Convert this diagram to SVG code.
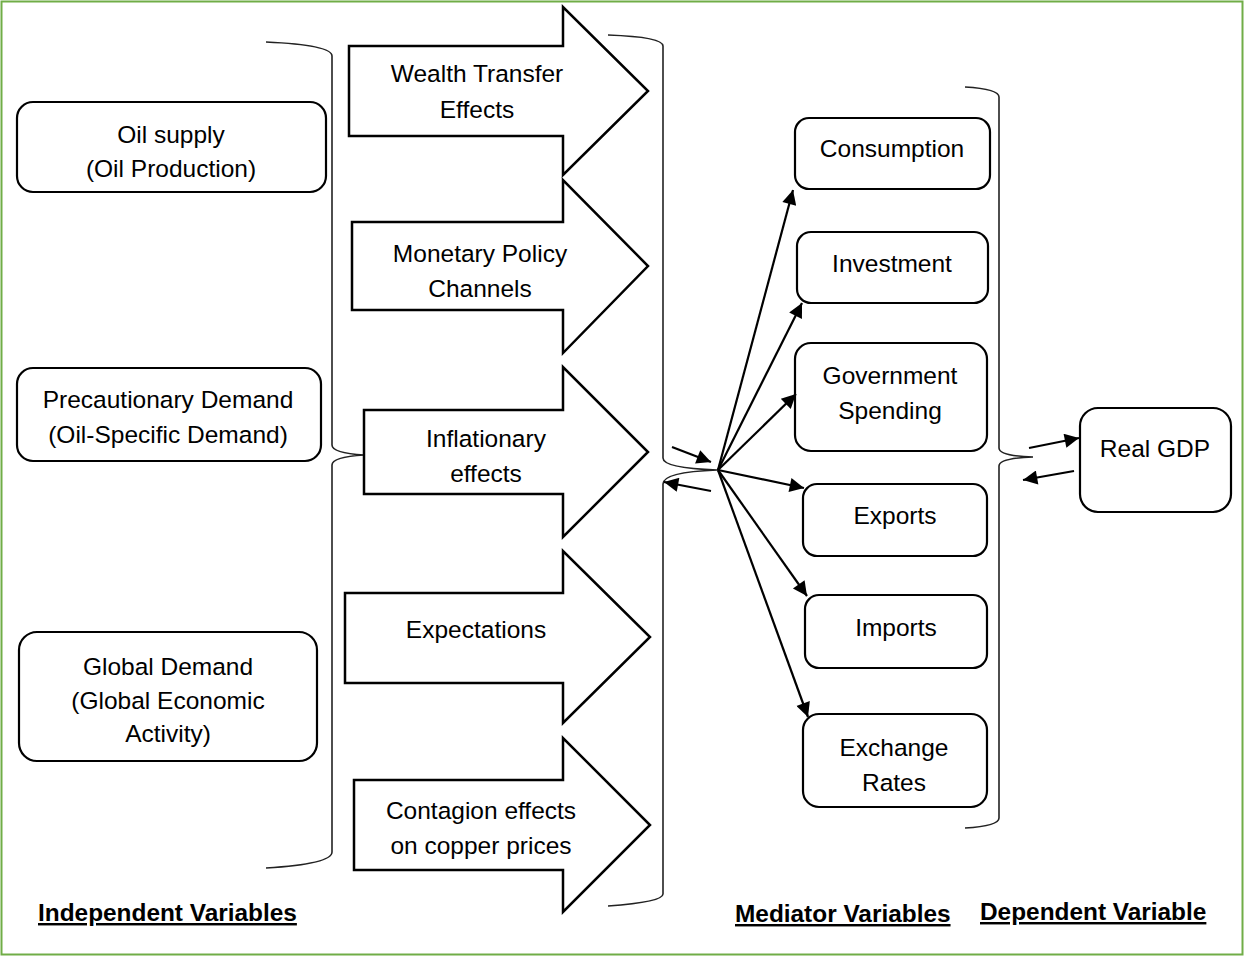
<svg xmlns="http://www.w3.org/2000/svg" width="1245" height="957" viewBox="0 0 1245 957">
<defs>
<marker id="ah" viewBox="0 0 10 10" refX="10" refY="5" markerWidth="8" markerHeight="6.5" markerUnits="strokeWidth" orient="auto">
<path d="M0,0 L10,5 L0,10 Z" fill="#000"/>
</marker>
<style>
.box{fill:#fff;stroke:#000;stroke-width:2.2}
.arr{fill:#fff;stroke:#000;stroke-width:2.5;stroke-linejoin:miter}
.brace{fill:none;stroke:#222;stroke-width:1.6}
.t{font-family:"Liberation Sans",Arial,sans-serif;font-size:24.5px;fill:#000;text-anchor:middle}
.lab{font-family:"Liberation Sans",Arial,sans-serif;font-size:24.4px;font-weight:bold;fill:#000;text-decoration:underline}
.con{stroke:#000;stroke-width:2.2;fill:none;marker-end:url(#ah)}
</style>
</defs>
<rect x="1.5" y="1.5" width="1241" height="953" fill="#fff" stroke="#70AD47" stroke-width="2"/>

<g id="brace-left">
<path class="brace" d="M266,42 Q332,45 332,56 V445 Q332,453 364,455 Q332,457 332,465 V852 Q332,864 266,868"/>
</g>
<g id="brace-mid">
<path class="brace" d="M608,35 Q663,37 663,46 V458 Q663,468 717,470 Q663,472 663,484 V894 Q663,902 608,906"/>
</g>
<g id="brace-right">
<path class="brace" d="M965,87 Q999,89 999,97 V448 Q999,456 1033,457 Q999,458 999,466 V818 Q999,826 965,828"/>
</g>

<g id="node-oil-supply">
<rect class="box" x="17" y="102" width="309" height="90" rx="16"/>
<text class="t" x="171" y="143">Oil supply</text>
<text class="t" x="171" y="177">(Oil Production)</text>
</g>
<g id="node-precautionary">
<rect class="box" x="17" y="368" width="304" height="93" rx="16"/>
<text class="t" x="168" y="408">Precautionary Demand</text>
<text class="t" x="168" y="443">(Oil-Specific Demand)</text>
</g>
<g id="node-global-demand">
<rect class="box" x="19" y="632" width="298" height="129" rx="18"/>
<text class="t" x="168" y="675">Global Demand</text>
<text class="t" x="168" y="709">(Global Economic</text>
<text class="t" x="168" y="742">Activity)</text>
</g>

<g id="node-wealth">
<path class="arr" d="M349,46 H563 V7 L648,91 L563,175 V136 H349 Z"/>
<text class="t" x="477" y="82">Wealth Transfer</text>
<text class="t" x="477" y="118">Effects</text>
</g>
<g id="node-monetary">
<path class="arr" d="M352,222 H563 V180 L648,266 L563,353 V310 H352 Z"/>
<text class="t" x="480" y="262">Monetary Policy</text>
<text class="t" x="480" y="297">Channels</text>
</g>
<g id="node-inflation">
<path class="arr" d="M364,410 H563 V367 L648,452 L563,537 V494 H364 Z"/>
<text class="t" x="486" y="447">Inflationary</text>
<text class="t" x="486" y="482">effects</text>
</g>
<g id="node-expectations">
<path class="arr" d="M345,593 H563 V551 L650,637 L563,723 V683 H345 Z"/>
<text class="t" x="476" y="638">Expectations</text>
</g>
<g id="node-contagion">
<path class="arr" d="M354,780 H563 V738 L650,825 L563,912 V870 H354 Z"/>
<text class="t" x="481" y="819">Contagion effects</text>
<text class="t" x="481" y="854">on copper prices</text>
</g>

<g id="node-consumption">
<rect class="box" x="795" y="118" width="195" height="71" rx="14"/>
<text class="t" x="892" y="157">Consumption</text>
</g>
<g id="node-investment">
<rect class="box" x="797" y="232" width="191" height="71" rx="14"/>
<text class="t" x="892" y="272">Investment</text>
</g>
<g id="node-government">
<rect class="box" x="795" y="343" width="192" height="108" rx="16"/>
<text class="t" x="890" y="384">Government</text>
<text class="t" x="890" y="419">Spending</text>
</g>
<g id="node-exports">
<rect class="box" x="803" y="484" width="184" height="72" rx="14"/>
<text class="t" x="895" y="524">Exports</text>
</g>
<g id="node-imports">
<rect class="box" x="805" y="595" width="182" height="73" rx="14"/>
<text class="t" x="896" y="636">Imports</text>
</g>
<g id="node-exchange">
<rect class="box" x="803" y="714" width="184" height="93" rx="16"/>
<text class="t" x="894" y="756">Exchange</text>
<text class="t" x="894" y="791">Rates</text>
</g>
<g id="node-realgdp">
<rect class="box" x="1080" y="408" width="151" height="104" rx="18"/>
<text class="t" x="1155" y="457">Real GDP</text>
</g>

<g id="connectors">
<line class="con" x1="672" y1="447" x2="711" y2="462"/>
<line class="con" x1="711" y1="491" x2="664" y2="482"/>
<line class="con" x1="718" y1="470" x2="793" y2="190"/>
<line class="con" x1="718" y1="470" x2="802" y2="303"/>
<line class="con" x1="718" y1="470" x2="796" y2="394"/>
<line class="con" x1="718" y1="470" x2="804" y2="488"/>
<line class="con" x1="718" y1="470" x2="807" y2="596"/>
<line class="con" x1="718" y1="470" x2="808" y2="717"/>
<line class="con" x1="1029" y1="448" x2="1079" y2="438"/>
<line class="con" x1="1074" y1="471" x2="1023" y2="480"/>
</g>

<g id="labels">
<text class="lab" x="38" y="921">Independent Variables</text>
<text class="lab" x="735" y="922">Mediator Variables</text>
<text class="lab" x="980" y="920">Dependent Variable</text>
</g>
</svg>
